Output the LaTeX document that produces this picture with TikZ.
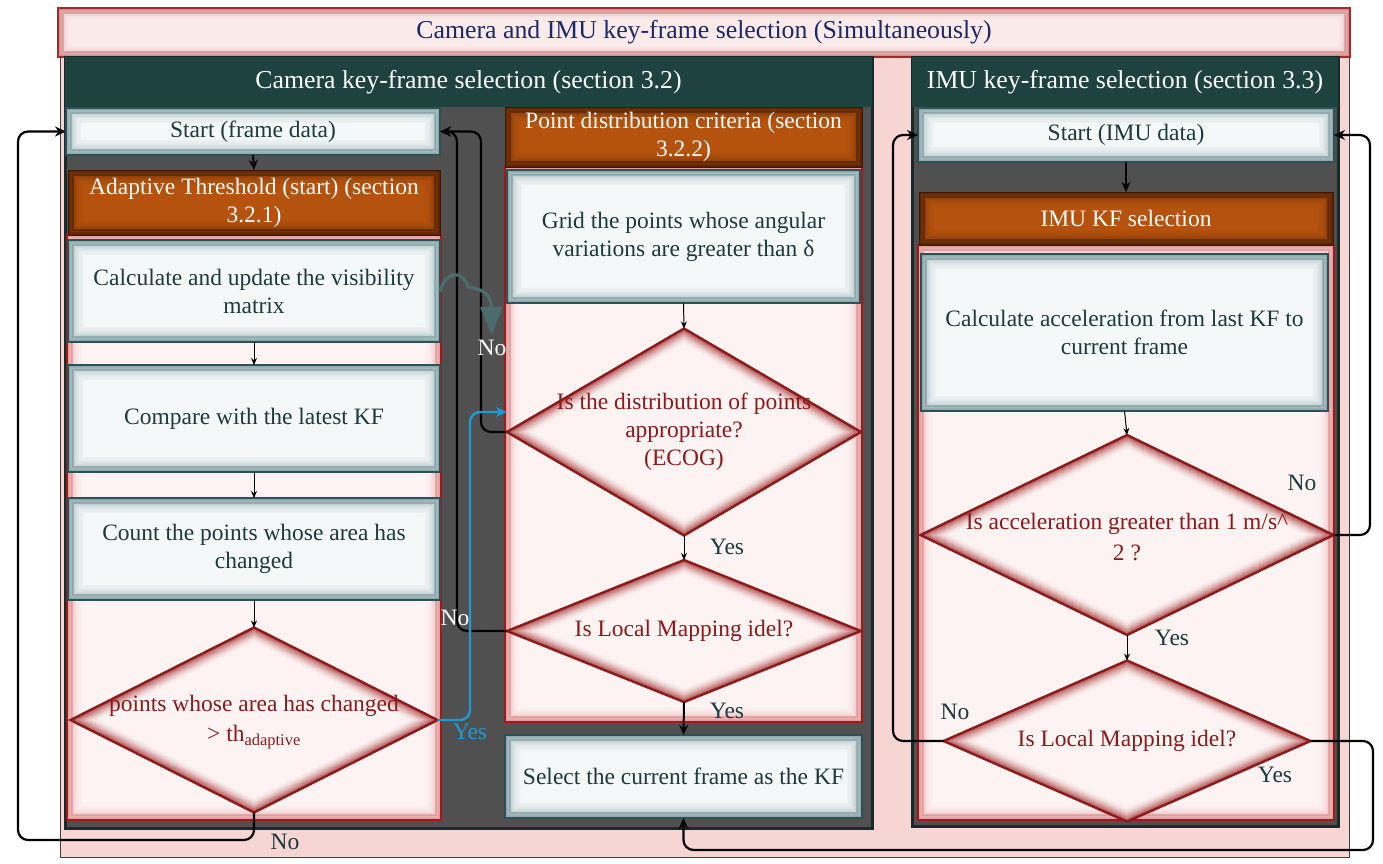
\documentclass[tikz,border=0pt]{standalone}
\usepackage{fontspec}
\setmainfont{Liberation Serif}
\newfontfamily\tnr{Liberation Serif}
\usetikzlibrary{shapes.geometric,arrows.meta,calc}
\definecolor{outerpink}{HTML}{F6D5D2}
\definecolor{titlefill}{HTML}{FBEAEA}
\definecolor{titleborder}{HTML}{A52A2A}
\definecolor{titletext}{HTML}{1B2A66}
\definecolor{laneteal}{HTML}{1E433E}
\definecolor{lanedark}{HTML}{182B2B}
\definecolor{lanegray}{HTML}{505050}
\definecolor{boxfill}{HTML}{F5F8F9}
\definecolor{boxborder}{HTML}{2C5257}
\definecolor{boxglow}{HTML}{5F8488}
\definecolor{boxtext}{HTML}{1D3A3F}
\definecolor{orangefill}{HTML}{B5520E}
\definecolor{orangeglow}{HTML}{3E1803}
\definecolor{contfill}{HTML}{FDF3F3}
\definecolor{contborder}{HTML}{A01A1A}
\definecolor{contglow}{HTML}{C84848}
\definecolor{diaborder}{HTML}{8E1B1B}
\definecolor{diaglow}{HTML}{A02828}
\definecolor{diatext}{HTML}{8B1A1A}
\definecolor{yesblue}{HTML}{1C9AD6}
\definecolor{tealarrow}{HTML}{4B6B6D}
\newcommand\bodyfont{\tnr\fontsize{23.5}{28}\selectfont}
\newcommand\headfont{\tnr\fontsize{25.8}{29}\selectfont}
\newcommand\rbox[6]{\node[#1, minimum width={(#4-#2)*1pt}, minimum height={(#5-#3)*1pt}] (#6) at ({(#2+#4)/2},{(#3+#5)/2})}
\tikzset{
  glowr/.style n args={3}{path picture={
    \foreach \k in {0,...,#2}{
      \pgfmathsetmacro\op{#3*(1-\k/(#2+1))^2}
      \draw[draw=#1, draw opacity=\op, line width=1.05pt]
        ([shift={(\k*0.9pt+0.5pt,\k*0.9pt+0.5pt)}]path picture bounding box.south west) rectangle
        ([shift={(-\k*0.9pt-0.5pt,-\k*0.9pt-0.5pt)}]path picture bounding box.north east);
    }}},
  glowd/.style n args={3}{path picture={
    \foreach \k in {0,...,14}{
      \pgfmathsetmacro\op{#3*(1-\k/15)^2}
      \pgfmathsetmacro\f{1-(\k*0.9+0.5)/#2}
      \draw[draw=#1, draw opacity=\op, line width=1.05pt]
        ($(path picture bounding box.center)!\f!(path picture bounding box.north)$) --
        ($(path picture bounding box.center)!\f!(path picture bounding box.east)$) --
        ($(path picture bounding box.center)!\f!(path picture bounding box.south)$) --
        ($(path picture bounding box.center)!\f!(path picture bounding box.west)$) -- cycle;
    }}},
  base/.style={inner sep=0pt, outer sep=0pt, align=center},
  titlebox/.style={base, draw=titleborder, line width=2pt, fill=titlefill, glowr={titleborder}{12}{0.55}, text=titletext, font=\headfont},
  lane/.style={base, draw=lanedark, line width=3pt, fill=lanegray},
  lanehead/.style={base, fill=laneteal, text=white, font=\headfont},
  box/.style={base, draw=boxborder, line width=2.4pt, fill=boxfill, glowr={boxglow}{18}{0.75}, text=boxtext, font=\bodyfont},
  orangehead/.style={base, draw=orangeglow, line width=1pt, fill=orangefill, glowr={orangeglow}{16}{0.8}, text=white, font=\bodyfont},
  cont/.style={base, draw=contborder, line width=2.2pt, fill=contfill, glowr={contglow}{16}{0.55}},
  dia/.style={base, diamond, draw=diaborder, line width=2.4pt, fill=contfill},
  dtext/.style={base, text=diatext, font=\bodyfont},
  lbl/.style={base, text=boxtext, font=\bodyfont},
  wlbl/.style={base, text=white, font=\bodyfont},
  thinarrow/.style={draw=black, line width=1pt, -{Stealth[length=7pt,width=6pt]}},
  thickarrow/.style={draw=black, line width=2pt, -{Stealth[length=10pt,width=9pt]}},
  loopline/.style={draw=black, line width=2.2pt, rounded corners=10pt, -{Stealth[length=11pt,width=10pt]}},
  blueline/.style={draw=yesblue, line width=2.4pt, rounded corners=10pt, -{Stealth[length=11pt,width=10pt]}},
}
\begin{document}
\begin{tikzpicture}[x=1pt,y=-1pt]
\useasboundingbox (0,0) rectangle (1383,863);
% outer background
\rbox{base, draw=black!75, line width=1pt, fill=outerpink}{60}{57}{1349}{857}{outer} {};
\rbox{titlebox}{58}{8}{1350}{57}{title} {Camera and IMU key-frame selection (Simultaneously)};
% lanes
\rbox{lane}{65}{57}{872}{828}{camlane} {};
\rbox{lanehead}{65}{57}{872}{107}{camhead} {Camera key-frame selection (section 3.2)};
\rbox{lane}{912}{57}{1338}{826}{imulane} {};
\rbox{lanehead}{912}{57}{1338}{107}{imuhead} {IMU key-frame selection (section 3.3)};
% left column
\rbox{box}{66}{108}{440}{155}{startF} {Start (frame data)};
\rbox{cont}{67}{235}{441}{820}{leftcont} {};
\rbox{orangehead}{68}{170}{440}{235}{athead} {Adaptive Threshold (start) (section\\3.2.1)};
\rbox{box}{68}{240}{440}{342}{calcV} {Calculate and update the visibility\\matrix};
\rbox{box}{68}{365}{440}{472}{compare} {Compare with the latest KF};
\rbox{box}{68}{498}{440}{600}{count} {Count the points whose area has\\changed};
\node[dia, glowd={diaglow}{82}{0.75}, minimum width=367pt, minimum height=185pt] (dA) at (254,720) {};
\node[dtext] (dAt) at (254,722) {points whose area has changed\\[2pt]> th\textsubscript{adaptive}};
% middle column
\rbox{cont}{505}{167}{862}{722}{midcont} {};
\rbox{orangehead}{505}{107}{862}{167}{pdhead} {Point distribution criteria (section\\3.2.2)};
\rbox{box}{507}{170}{860}{303}{grid} {Grid the points whose angular\\variations are greater than δ};
\node[dia, glowd={diaglow}{89}{0.75}, minimum width=354pt, minimum height=207pt] (d1) at (684,432) {};
\node[dtext] (d1t) at (684,432) {Is the distribution of points\\appropriate?\\(ECOG)};
\node[dia, glowd={diaglow}{66}{0.75}, minimum width=354pt, minimum height=142pt] (d2) at (684,631) {};
\node[dtext] (d2t) at (684,631) {Is Local Mapping idel?};
\rbox{box}{505}{735}{862}{818}{select} {Select the current frame as the KF};
% IMU column
\rbox{box}{918}{108}{1334}{162}{startI} {Start (IMU data)};
\rbox{cont}{918}{245}{1334}{820}{imucont} {};
\rbox{orangehead}{919}{192}{1333}{245}{imukf} {IMU KF selection};
\rbox{box}{921}{254}{1328}{411}{accel} {Calculate acceleration from last KF to\\current frame};
\node[dia, glowd={diaglow}{90}{0.75}, minimum width=413pt, minimum height=200pt] (dI1) at (1127,535) {};
\node[dtext, font=\tnr\fontsize{23.5}{31}\selectfont] (dI1t) at (1127,537) {Is acceleration greater than 1 m/s\textasciicircum\\2 ?};
\node[dia, glowd={diaglow}{73}{0.75}, minimum width=367pt, minimum height=161pt] (dI2) at (1127,741) {};
\node[dtext] (dI2t) at (1127,741) {Is Local Mapping idel?};
% connectors left column
\draw[thickarrow] (startF.south) -- (athead.north);
\draw[thinarrow] (calcV.south) -- (compare.north);
\draw[thinarrow] (compare.south) -- (count.north);
\draw[thinarrow] (count.south) -- (dA.north);
\draw[loopline] (dA.south) |- (18,840) |- (startF.west);
\node[lbl] (noA) at (285,842) {No};
\draw[loopline] (d1.west) -| ($(startF.east)+(41,0)$) -- (startF.east);
\draw[loopline] (d2.west) -| ($(startF.east)+(17,0)$) -- (startF.east);
\node[wlbl] (no1) at (455,618) {No};
\coordinate (byes) at (507,412);
\draw[blueline] (dA.east) -| (470,412) -- (byes);
\node[base, text=yesblue, font=\bodyfont] (yesA) at (470,732) {Yes};
\coordinate (tc) at (492,335);
\draw[draw=tealarrow, line width=3.2pt, -{Triangle[length=28pt,width=22pt]}] (calcV.east) .. controls (447,270) and (463,270) .. (468,287) .. controls (480,289) and (491,292) .. (tc);
\node[wlbl] (no2) at (492,348) {No};
% middle column
\draw[thinarrow] (grid.south) -- (d1.north);
\draw[thinarrow] (d1.south) -- (d2.north);
\node[lbl] (yes1) at (727,547) {Yes};
\draw[thickarrow] (d2.south) -- (select.north);
\node[lbl] (yes2) at (727,711) {Yes};
% IMU column
\draw[thickarrow] (startI.south) -- (imukf.north);
\draw[thinarrow] (accel.south) -- (dI1.north);
\draw[thinarrow] (dI1.south) -- (dI2.north);
\node[lbl] (yesI1) at (1172,638) {Yes};
\draw[loopline] (dI1.east) -| ($(startI.east)+(36,0)$) -- (startI.east);
\node[lbl] (noI1) at (1302,483) {No};
\draw[loopline] (dI2.west) -| ($(startI.west)+(-25,0)$) -- (startI.west);
\node[lbl] (noI2) at (955,712) {No};
\draw[loopline] (dI2.east) -| (1373,850) -| (select.south);
\node[lbl] (yesI2) at (1275,775) {Yes};
\end{tikzpicture}
\end{document}
